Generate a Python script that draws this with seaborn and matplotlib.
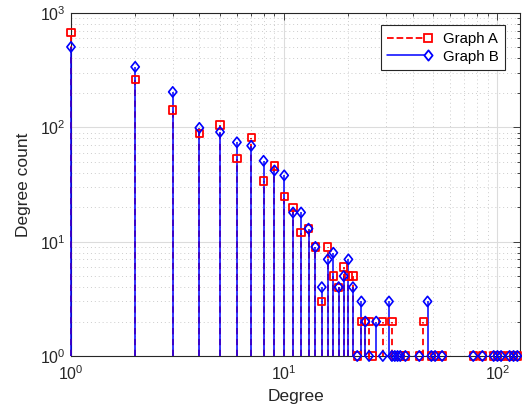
import numpy as np
import pandas as pd
import matplotlib
matplotlib.use("Agg")
import matplotlib.pyplot as plt
import seaborn as sns
from matplotlib.lines import Line2D
from matplotlib.legend_handler import HandlerBase
from matplotlib.path import Path
from matplotlib.ticker import LogLocator, LogFormatterSciNotation, NullFormatter

# ---------------- data ----------------
deg_a = [1, 2, 3, 4, 5, 6, 7, 8, 9, 10, 11, 12, 13, 14, 15, 16, 17, 18, 19, 20, 21,
         22, 23, 24, 25, 26, 29, 32, 33, 35, 37, 43, 45, 49, 51, 55,
         77, 85, 96, 100, 104, 114, 119, 124]
cnt_a = [680, 260, 142, 89, 105, 53, 81, 34, 46, 25, 20, 12, 13, 9, 3, 9, 5, 4, 6, 5, 5,
         1, 2, 2, 2, 1, 2, 2, 1, 1, 1, 1, 2, 1, 1, 1,
         1, 1, 1, 1, 1, 1, 1, 1]

deg_b = [1, 2, 3, 4, 5, 6, 7, 8, 9, 10, 11, 12, 13, 14, 15, 16, 17, 18, 19, 20, 21,
         22, 23, 24, 25, 27, 29, 31, 32, 33, 34, 35, 37, 43, 47, 49, 51, 55,
         77, 85, 96, 100, 104, 114, 119, 124]
cnt_b = [505, 338, 204, 99, 91, 74, 69, 51, 42, 38, 18, 18, 13, 9, 4, 7, 8, 4, 5, 7, 4,
         1, 3, 2, 1, 2, 1, 3, 1, 1, 1, 1, 1, 1, 3, 1, 1, 1,
         1, 1, 1, 1, 1, 1, 1, 1]

labels = ["Graph A", "Graph B"]
x_label = "Degree"
y_label = "Degree count"

df_a = pd.DataFrame({"degree": deg_a, "count": cnt_a})
df_b = pd.DataFrame({"degree": deg_b, "count": cnt_b})

# ---------------- style ----------------
sns.set_theme(style="white")
TXT = "#262626"
plt.rcParams["font.family"] = ["Liberation Sans", "DejaVu Sans"]
plt.rcParams["mathtext.fontset"] = "custom"
plt.rcParams["mathtext.rm"] = "Liberation Sans"
plt.rcParams["mathtext.it"] = "Liberation Sans"

W, H = 522, 418
fig = plt.figure(figsize=(W / 100, H / 100), dpi=100)
left, right, top, bottom = 71, 520.3, 13, 356
ax = fig.add_axes([left / W, 1 - bottom / H, (right - left) / W, (bottom - top) / H])
ax.set_xscale("log")
ax.set_yscale("log")
ax.set_xlim(1, 128)
ax.set_ylim(1, 1000)

red = "#ff0000"
blue = "#0000ff"
diamond = Path([(0, 1), (0.8, 0), (0, -1), (-0.8, 0), (0, 1)],
               [Path.MOVETO, Path.LINETO, Path.LINETO, Path.LINETO, Path.CLOSEPOLY])

# stems
ax.vlines(df_a["degree"], 1, df_a["count"], colors=red, linestyles=(0, (3.5, 2.5)),
          linewidth=1.3, zorder=3, clip_on=False)
ax.vlines(df_b["degree"], 1, df_b["count"], colors=blue, linestyles="-",
          linewidth=1.1, zorder=4, clip_on=False)

# markers
sns.scatterplot(data=df_a, x="degree", y="count", marker="s", s=5.2 ** 2,
                facecolors="none", edgecolor=red, linewidth=1.3, ax=ax, zorder=5,
                clip_on=False)
sns.scatterplot(data=df_b, x="degree", y="count", marker=diamond, s=7.4 ** 2,
                facecolors="none", edgecolor=blue, linewidth=1.2, ax=ax, zorder=6,
                clip_on=False)

# axes / ticks
ax.xaxis.set_major_locator(LogLocator(base=10, numticks=10))
ax.yaxis.set_major_locator(LogLocator(base=10, numticks=10))
ax.xaxis.set_minor_locator(LogLocator(base=10, subs=np.arange(2, 10), numticks=20))
ax.yaxis.set_minor_locator(LogLocator(base=10, subs=np.arange(2, 10), numticks=20))
ax.xaxis.set_major_formatter(LogFormatterSciNotation())
ax.yaxis.set_major_formatter(LogFormatterSciNotation())
ax.xaxis.set_minor_formatter(NullFormatter())
ax.yaxis.set_minor_formatter(NullFormatter())

ax.tick_params(which="both", direction="in", top=True, right=True, colors=TXT,
               labelcolor=TXT, labelsize=11.5, width=0.6)
ax.tick_params(which="major", length=5)
ax.tick_params(which="minor", length=2.5)
ax.tick_params(axis="x", pad=6)
ax.tick_params(axis="y", pad=4)

ax.grid(True, which="major", color="#dcdcdc", linestyle="-", linewidth=0.8, zorder=0)
ax.grid(True, which="minor", color="#cccccc", linestyle=(0, (1, 3)), linewidth=0.7, zorder=0)
ax.set_axisbelow(True)
for sp in ax.spines.values():
    sp.set_color(TXT)
    sp.set_linewidth(0.8)
    sp.set_visible(True)
    sp.set_zorder(2)

ax.set_xlabel(x_label, fontsize=12.5, color=TXT, labelpad=4)
ax.set_ylabel(y_label, fontsize=12.5, color=TXT, labelpad=6)


class StemHandler(HandlerBase):
    def create_artists(self, legend, orig_handle, xdescent, ydescent, width, height,
                       fontsize, trans):
        y = height / 2 - ydescent
        x0, x1 = -xdescent, width - xdescent
        line = Line2D([x0, x1], [y, y], color=orig_handle.get_color(),
                      linestyle=orig_handle.get_linestyle(),
                      linewidth=orig_handle.get_linewidth(), transform=trans)
        mk = Line2D([x1], [y], marker=orig_handle.get_marker(),
                    markersize=orig_handle.get_markersize(),
                    markerfacecolor="white", markeredgecolor=orig_handle.get_color(),
                    markeredgewidth=1.3, linestyle="none", transform=trans)
        return [line, mk]


h_a = Line2D([], [], color=red, linestyle=(0, (3.5, 2.5)), linewidth=1.3, marker="s",
             markersize=5.2)
h_b = Line2D([], [], color=blue, linestyle="-", linewidth=1.1, marker=diamond,
             markersize=7.4)
leg = ax.legend([h_a, h_b], labels, loc="upper right", bbox_to_anchor=(0.967, 0.965),
                handler_map={Line2D: StemHandler()}, fontsize=10.8, frameon=True,
                fancybox=False, edgecolor=TXT, framealpha=1, handlelength=2.7,
                handletextpad=1.0, borderpad=0.45, labelspacing=0.25, borderaxespad=0)
leg.get_frame().set_linewidth(0.8)
leg.set_zorder(10)
for t in leg.get_texts():
    t.set_color("black")

fig.savefig("out.png", dpi=100)
